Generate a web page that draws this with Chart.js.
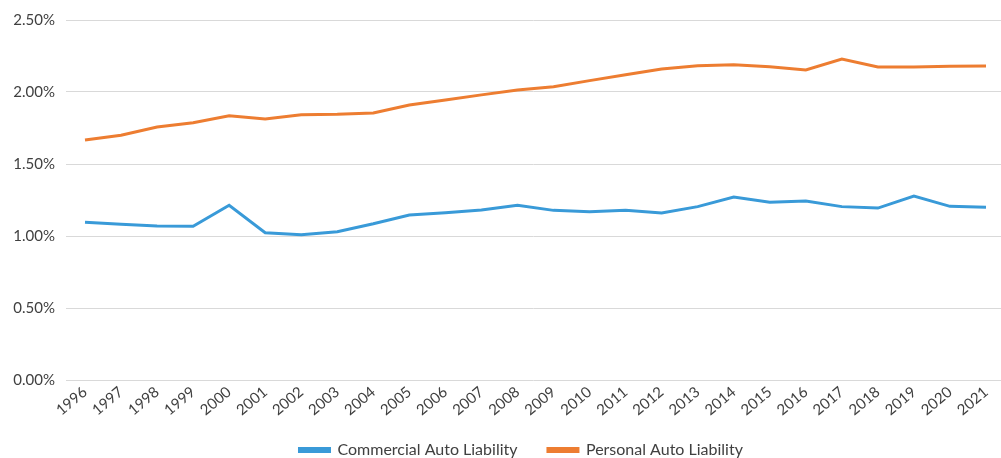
<!DOCTYPE html>
<html>
<head>
<meta charset="utf-8">
<script src="https://cdn.jsdelivr.net/npm/chart.js@4/dist/chart.umd.min.js"></script>
<style>
  body { margin: 0; background: #fff; }
  #wrap { width: 1001px; height: 458px; }
</style>
</head>
<body>
<div id="wrap"><canvas id="myChart" width="1001" height="458"></canvas></div>
<script>
var years = [1996, 1997, 1998, 1999, 2000, 2001, 2002, 2003, 2004, 2005, 2006, 2007, 2008,
    2009, 2010, 2011, 2012, 2013, 2014, 2015, 2016, 2017, 2018, 2019, 2020, 2021];
// values in percent
var commercial = [1.095, 1.081, 1.069, 1.067, 1.213, 1.023, 1.009, 1.030, 1.085, 1.146, 1.162, 1.180, 1.213,
    1.178, 1.169, 1.178, 1.160, 1.204, 1.271, 1.234, 1.243, 1.204, 1.194, 1.278, 1.206, 1.199];
var personal = [1.667, 1.700, 1.757, 1.787, 1.835, 1.812, 1.842, 1.845, 1.854, 1.910, 1.945, 1.980, 2.014,
    2.037, 2.079, 2.120, 2.160, 2.183, 2.190, 2.176, 2.153, 2.229, 2.174, 2.174, 2.178, 2.181];
var seriesNames = ["Commercial Auto Liability", "Personal Auto Liability"];
var yTicks = [0, 0.5, 1.0, 1.5, 2.0, 2.5];

var blue = 'rgb(57, 154, 216)';
var orange = 'rgb(237, 125, 49)';
var textColor = '#404040';

function toPoints(values) {
    return values.map(function(v, i) { return { x: years[i], y: v }; });
}

var ctx = document.getElementById("myChart").getContext('2d');
var myChart = new Chart(ctx, {
    type: 'line',
    data: {
        datasets: [{
            label: seriesNames[0],
            data: toPoints(commercial),
            borderColor: blue,
            backgroundColor: blue,
            borderWidth: 3,
            pointRadius: 0,
            tension: 0
        }, {
            label: seriesNames[1],
            data: toPoints(personal),
            borderColor: orange,
            backgroundColor: orange,
            borderWidth: 3,
            pointRadius: 0,
            tension: 0
        }]
    },
    options: {
        responsive: false,
        animation: false,
        layout: { padding: { top: 13, right: 0, left: 0, bottom: -10 } },
        plugins: {
            legend: {
                position: 'bottom',
                fullSize: false,
                labels: {
                    boxWidth: 30,
                    boxHeight: 3,
                    padding: 10,
                    color: textColor,
                    font: { family: 'Lato', size: 16 },
                    generateLabels: function(chart) {
                        var items = Chart.defaults.plugins.legend.labels.generateLabels(chart);
                        // spacing tweaks so the entries sit like the original
                        items[0].text = items[0].text + '     ';
                        items[1].text = items[1].text + '      ';
                        return items;
                    }
                }
            },
            tooltip: { enabled: false }
        },
        scales: {
            x: {
                type: 'linear',
                min: 1995.473,
                max: 2021.416,
                afterBuildTicks: function(axis) {
                    axis.ticks = years.map(function(v) { return { value: v }; });
                },
                afterFit: function(axis) { axis.height = 52; },
                grid: { display: false, drawTicks: false },
                border: { display: false },
                ticks: {
                    color: textColor,
                    font: { family: 'Lato', size: 15 },
                    maxRotation: 40,
                    minRotation: 40,
                    autoSkip: false,
                    padding: 3,
                    callback: function(v) { return String(v); }
                }
            },
            y: {
                min: 0,
                max: 2.5,
                afterBuildTicks: function(axis) {
                    axis.ticks = yTicks.map(function(v) { return { value: v }; });
                },
                afterFit: function(axis) { axis.width = 66; },
                grid: { color: '#d9d9d9', lineWidth: 1, drawTicks: false },
                border: { display: false },
                ticks: {
                    color: textColor,
                    font: { family: 'Lato', size: 15 },
                    padding: 11,
                    callback: function(v) { return v.toFixed(2) + '%'; }
                }
            }
        }
    }
});
</script>
</body>
</html>
